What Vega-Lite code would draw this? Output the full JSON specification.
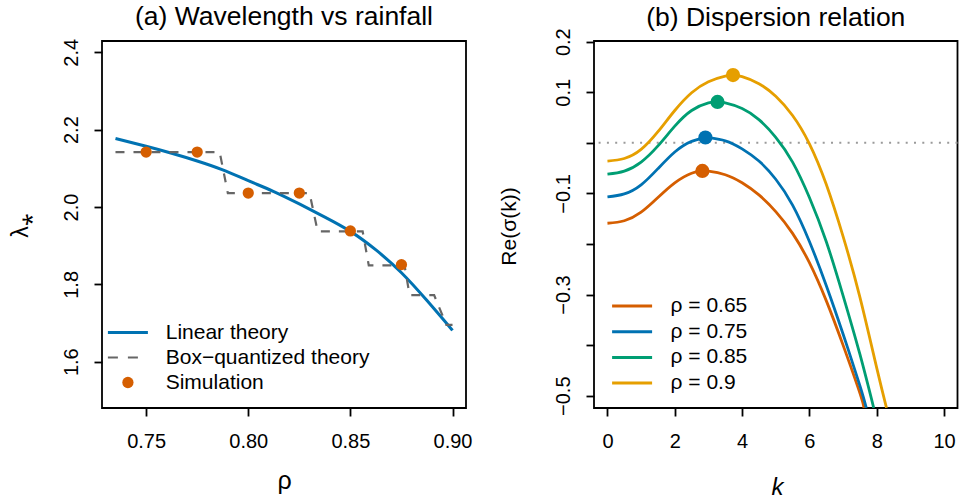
{
  "$schema": "https://vega.github.io/schema/vega-lite/v6.json",
  "autosize": {"type": "pad"},
  "padding": {"left": 8, "top": 2, "right": 0, "bottom": 0},
  "bounds": "flush",
  "spacing": 128,
  "background": "white",
  "config": {
    "view": {"stroke": "black", "strokeWidth": 1.8},
    "font": "Liberation Sans",
    "axis": {"domain": false, "grid": false, "tickColor": "black", "tickSize": 8, "tickWidth": 1.8, "labelColor": "black", "labelFont": "Liberation Sans", "labelFontSize": 20, "titleFont": "Liberation Sans", "titleFontWeight": "normal", "titleColor": "black", "labelOverlap": false, "labelFlush": false},
    "title": {"font": "Liberation Sans", "fontSize": 26.5, "fontWeight": "normal", "color": "black", "baseline": "alphabetic", "offset": 8, "anchor": "middle"}
  },
  "resolve": {"scale": {"color": "independent"}, "legend": {"color": "independent"}},
  "hconcat": [
    {
      "title": "(a) Wavelength vs rainfall",
      "width": 364,
      "height": 367,
      "encoding": {
        "x": {"field": "rho", "type": "quantitative", "scale": {"domain": [0.7284, 0.9066], "nice": false, "zero": false},
          "axis": {"values": [0.75, 0.8, 0.85, 0.9], "format": ".2f", "labelPadding": 15, "title": "ρ", "titleFontSize": 25, "titleX": 182, "titleY": 80, "titleAlign": "center", "titleBaseline": "alphabetic"}},
        "y": {"field": "lambda", "type": "quantitative", "scale": {"domain": [1.4803, 2.4292], "nice": false, "zero": false},
          "axis": {"values": [1.6, 1.8, 2.0, 2.2, 2.4], "format": ".1f", "labelAngle": -90, "labelAlign": "center", "labelBaseline": "alphabetic", "labelPadding": 17, "title": "λ⁎", "titleFontSize": 23, "titleAngle": -90, "titleX": -75, "titleY": 184, "titleAlign": "center", "titleBaseline": "alphabetic"}},
        "color": {"field": "series", "type": "nominal",
          "scale": {"domain": ["Linear theory", "Box−quantized theory", "Simulation"], "range": ["#0072B2", "#666666", "#D55E00"]},
          "legend": {"orient": "none", "legendX": 15.4, "legendY": 281, "title": null, "padding": 0, "labelFontSize": 21, "labelFont": "Liberation Sans", "labelColor": "black", "labelOffset": 27.3, "labelLimit": 0, "rowPadding": 3, "symbolType": "stroke", "symbolSize": 1600, "symbolStrokeWidth": 3,
            "encode": {"symbols": {"update": {
              "shape": {"signal": "datum.value === 'Simulation' ? 'circle' : 'stroke'"},
              "size": {"signal": "datum.value === 'Simulation' ? 127 : 1600"},
              "fill": {"signal": "datum.value === 'Simulation' ? '#D55E00' : 'transparent'"},
              "strokeWidth": {"signal": "datum.value === 'Simulation' ? 0 : (datum.value === 'Linear theory' ? 3 : 2.2)"},
              "strokeDash": {"signal": "datum.value === 'Box−quantized theory' ? [10, 10] : [1, 0]"}
            }}}}
        }
      },
      "layer": [
        {
          "data": {"values": [
            {"series": "Linear theory", "rho": 0.735, "lambda": 2.177},
            {"series": "Linear theory", "rho": 0.75, "lambda": 2.157},
            {"series": "Linear theory", "rho": 0.7625, "lambda": 2.139},
            {"series": "Linear theory", "rho": 0.775, "lambda": 2.119},
            {"series": "Linear theory", "rho": 0.7875, "lambda": 2.096},
            {"series": "Linear theory", "rho": 0.8, "lambda": 2.068},
            {"series": "Linear theory", "rho": 0.8125, "lambda": 2.04},
            {"series": "Linear theory", "rho": 0.825, "lambda": 2.008},
            {"series": "Linear theory", "rho": 0.8375, "lambda": 1.974},
            {"series": "Linear theory", "rho": 0.85, "lambda": 1.937},
            {"series": "Linear theory", "rho": 0.8625, "lambda": 1.889},
            {"series": "Linear theory", "rho": 0.875, "lambda": 1.83},
            {"series": "Linear theory", "rho": 0.8875, "lambda": 1.758},
            {"series": "Linear theory", "rho": 0.9, "lambda": 1.681}
          ]},
          "mark": {"type": "line", "strokeWidth": 3, "interpolate": "natural", "clip": true}
        },
        {
          "data": {"values": [
            {"series": "Box−quantized theory", "rho": 0.735, "lambda": 2.142},
            {"series": "Box−quantized theory", "rho": 0.786, "lambda": 2.142},
            {"series": "Box−quantized theory", "rho": 0.79, "lambda": 2.036},
            {"series": "Box−quantized theory", "rho": 0.83, "lambda": 2.036},
            {"series": "Box−quantized theory", "rho": 0.834, "lambda": 1.937},
            {"series": "Box−quantized theory", "rho": 0.856, "lambda": 1.937},
            {"series": "Box−quantized theory", "rho": 0.859, "lambda": 1.849},
            {"series": "Box−quantized theory", "rho": 0.8765, "lambda": 1.849},
            {"series": "Box−quantized theory", "rho": 0.879, "lambda": 1.772},
            {"series": "Box−quantized theory", "rho": 0.891, "lambda": 1.772},
            {"series": "Box−quantized theory", "rho": 0.897, "lambda": 1.695},
            {"series": "Box−quantized theory", "rho": 0.9, "lambda": 1.695}
          ]},
          "mark": {"type": "line", "strokeWidth": 2.2, "strokeDash": [9, 9], "clip": true}
        },
        {
          "data": {"values": [
            {"series": "Simulation", "rho": 0.75, "lambda": 2.142},
            {"series": "Simulation", "rho": 0.775, "lambda": 2.142},
            {"series": "Simulation", "rho": 0.8, "lambda": 2.036},
            {"series": "Simulation", "rho": 0.825, "lambda": 2.036},
            {"series": "Simulation", "rho": 0.85, "lambda": 1.938},
            {"series": "Simulation", "rho": 0.875, "lambda": 1.851}
          ]},
          "mark": {"type": "circle", "size": 127, "opacity": 1}
        }
      ]
    },
    {
      "title": {"text": "(b) Dispersion relation", "dy": 12},
      "width": 363.5,
      "height": 367,
      "layer": [
        {
          "data": {"values": [{"zero": 0}]},
          "mark": {"type": "rule", "color": "#9a9a9a", "strokeWidth": 2, "strokeDash": [2, 6.3]},
          "encoding": {"y": {"field": "zero", "type": "quantitative"}}
        },
        {
          "data": {"values": [
            {"curve": "ρ = 0.65", "k": 0, "s": -0.159}, {"curve": "ρ = 0.65", "k": 0.5, "s": -0.154}, {"curve": "ρ = 0.65", "k": 1, "s": -0.137}, {"curve": "ρ = 0.65", "k": 1.5, "s": -0.108}, {"curve": "ρ = 0.65", "k": 2, "s": -0.079}, {"curve": "ρ = 0.65", "k": 2.5, "s": -0.06}, {"curve": "ρ = 0.65", "k": 2.82, "s": -0.0555}, {"curve": "ρ = 0.65", "k": 3, "s": -0.056}, {"curve": "ρ = 0.65", "k": 3.5, "s": -0.063}, {"curve": "ρ = 0.65", "k": 4, "s": -0.079}, {"curve": "ρ = 0.65", "k": 4.5, "s": -0.103}, {"curve": "ρ = 0.65", "k": 5, "s": -0.136}, {"curve": "ρ = 0.65", "k": 5.5, "s": -0.179}, {"curve": "ρ = 0.65", "k": 6, "s": -0.237}, {"curve": "ρ = 0.65", "k": 6.5, "s": -0.312}, {"curve": "ρ = 0.65", "k": 7, "s": -0.4}, {"curve": "ρ = 0.65", "k": 7.5, "s": -0.495}, {"curve": "ρ = 0.65", "k": 7.62, "s": -0.524},
            {"curve": "ρ = 0.75", "k": 0, "s": -0.107}, {"curve": "ρ = 0.75", "k": 0.5, "s": -0.101}, {"curve": "ρ = 0.75", "k": 1, "s": -0.083}, {"curve": "ρ = 0.75", "k": 1.5, "s": -0.051}, {"curve": "ρ = 0.75", "k": 2, "s": -0.018}, {"curve": "ρ = 0.75", "k": 2.5, "s": 0.003}, {"curve": "ρ = 0.75", "k": 2.91, "s": 0.0106}, {"curve": "ρ = 0.75", "k": 3, "s": 0.0104}, {"curve": "ρ = 0.75", "k": 3.5, "s": 0.004}, {"curve": "ρ = 0.75", "k": 4, "s": -0.012}, {"curve": "ρ = 0.75", "k": 4.5, "s": -0.036}, {"curve": "ρ = 0.75", "k": 5, "s": -0.072}, {"curve": "ρ = 0.75", "k": 5.5, "s": -0.123}, {"curve": "ρ = 0.75", "k": 6, "s": -0.195}, {"curve": "ρ = 0.75", "k": 6.5, "s": -0.282}, {"curve": "ρ = 0.75", "k": 7, "s": -0.378}, {"curve": "ρ = 0.75", "k": 7.5, "s": -0.48}, {"curve": "ρ = 0.75", "k": 7.69, "s": -0.524},
            {"curve": "ρ = 0.85", "k": 0, "s": -0.062}, {"curve": "ρ = 0.85", "k": 0.5, "s": -0.056}, {"curve": "ρ = 0.85", "k": 1, "s": -0.038}, {"curve": "ρ = 0.85", "k": 1.5, "s": -0.006}, {"curve": "ρ = 0.85", "k": 2, "s": 0.033}, {"curve": "ρ = 0.85", "k": 2.5, "s": 0.064}, {"curve": "ρ = 0.85", "k": 3, "s": 0.079}, {"curve": "ρ = 0.85", "k": 3.27, "s": 0.081}, {"curve": "ρ = 0.85", "k": 3.5, "s": 0.079}, {"curve": "ρ = 0.85", "k": 4, "s": 0.068}, {"curve": "ρ = 0.85", "k": 4.5, "s": 0.046}, {"curve": "ρ = 0.85", "k": 5, "s": 0.011}, {"curve": "ρ = 0.85", "k": 5.5, "s": -0.038}, {"curve": "ρ = 0.85", "k": 6, "s": -0.108}, {"curve": "ρ = 0.85", "k": 6.5, "s": -0.195}, {"curve": "ρ = 0.85", "k": 7, "s": -0.302}, {"curve": "ρ = 0.85", "k": 7.5, "s": -0.418}, {"curve": "ρ = 0.85", "k": 7.91, "s": -0.524},
            {"curve": "ρ = 0.9", "k": 0, "s": -0.036}, {"curve": "ρ = 0.9", "k": 0.5, "s": -0.031}, {"curve": "ρ = 0.9", "k": 1, "s": -0.013}, {"curve": "ρ = 0.9", "k": 1.5, "s": 0.022}, {"curve": "ρ = 0.9", "k": 2, "s": 0.064}, {"curve": "ρ = 0.9", "k": 2.5, "s": 0.099}, {"curve": "ρ = 0.9", "k": 3, "s": 0.121}, {"curve": "ρ = 0.9", "k": 3.5, "s": 0.132}, {"curve": "ρ = 0.9", "k": 3.73, "s": 0.134}, {"curve": "ρ = 0.9", "k": 4, "s": 0.131}, {"curve": "ρ = 0.9", "k": 4.5, "s": 0.117}, {"curve": "ρ = 0.9", "k": 5, "s": 0.092}, {"curve": "ρ = 0.9", "k": 5.5, "s": 0.054}, {"curve": "ρ = 0.9", "k": 6, "s": -0.002}, {"curve": "ρ = 0.9", "k": 6.5, "s": -0.082}, {"curve": "ρ = 0.9", "k": 7, "s": -0.185}, {"curve": "ρ = 0.9", "k": 7.5, "s": -0.305}, {"curve": "ρ = 0.9", "k": 8, "s": -0.445}, {"curve": "ρ = 0.9", "k": 8.29, "s": -0.524}
          ]},
          "mark": {"type": "line", "strokeWidth": 2.8, "interpolate": "natural", "clip": true},
          "encoding": {
            "x": {"field": "k", "type": "quantitative", "scale": {"domain": [-0.4, 10.4], "nice": false, "zero": false},
              "axis": {"values": [0, 2, 4, 6, 8, 10], "format": "d", "labelPadding": 15, "title": "k", "titleFontSize": 24, "titleFontStyle": "italic", "titleX": 183, "titleY": 86, "titleAlign": "center", "titleBaseline": "alphabetic"}},
            "y": {"field": "s", "type": "quantitative", "scale": {"domain": [-0.5243, 0.2014], "nice": false, "zero": false},
              "axis": {"values": [0.2, 0.1, 0, -0.1, -0.2, -0.3, -0.4, -0.5], "labelExpr": "(abs(datum.value) < 1e-6 || abs(datum.value + 0.2) < 1e-6 || abs(datum.value + 0.4) < 1e-6) ? '' : format(datum.value, '.1f')", "labelAngle": -90, "labelAlign": "center", "labelBaseline": "alphabetic", "labelPadding": 17, "title": "Re(σ(k))", "titleFontSize": 21, "titleAngle": -90, "titleX": -79, "titleY": 185, "titleAlign": "center", "titleBaseline": "alphabetic"}},
            "color": {"field": "curve", "type": "nominal",
              "scale": {"domain": ["ρ = 0.65", "ρ = 0.75", "ρ = 0.85", "ρ = 0.9"], "range": ["#D55E00", "#0072B2", "#009E73", "#E69F00"]},
              "legend": {"orient": "none", "legendX": 27.6, "legendY": 254.5, "title": null, "padding": 0, "labelFontSize": 21, "labelFont": "Liberation Sans", "labelColor": "black", "labelOffset": 27.9, "labelLimit": 0, "rowPadding": 3.7, "symbolType": "stroke", "symbolSize": 1600, "symbolStrokeWidth": 3,
                "encode": {"symbols": {"update": {
                  "shape": {"signal": "datum.value === 'none' ? 'circle' : 'stroke'"},
                  "size": {"signal": "datum.value === 'none' ? 127 : 1600"},
                  "strokeWidth": {"signal": "datum.value === 'none' ? 0 : 3"},
                  "fill": {"signal": "datum.value === 'none' ? 'black' : 'transparent'"}
                }}}}}
          }
        },
        {
          "data": {"values": [
            {"curve": "ρ = 0.65", "k": 2.82, "s": -0.0555},
            {"curve": "ρ = 0.75", "k": 2.91, "s": 0.0106},
            {"curve": "ρ = 0.85", "k": 3.27, "s": 0.081},
            {"curve": "ρ = 0.9", "k": 3.73, "s": 0.134}
          ]},
          "mark": {"type": "circle", "size": 201, "opacity": 1},
          "encoding": {
            "x": {"field": "k", "type": "quantitative"},
            "y": {"field": "s", "type": "quantitative"},
            "color": {"field": "curve", "type": "nominal"}
          }
        }
      ]
    }
  ]
}
